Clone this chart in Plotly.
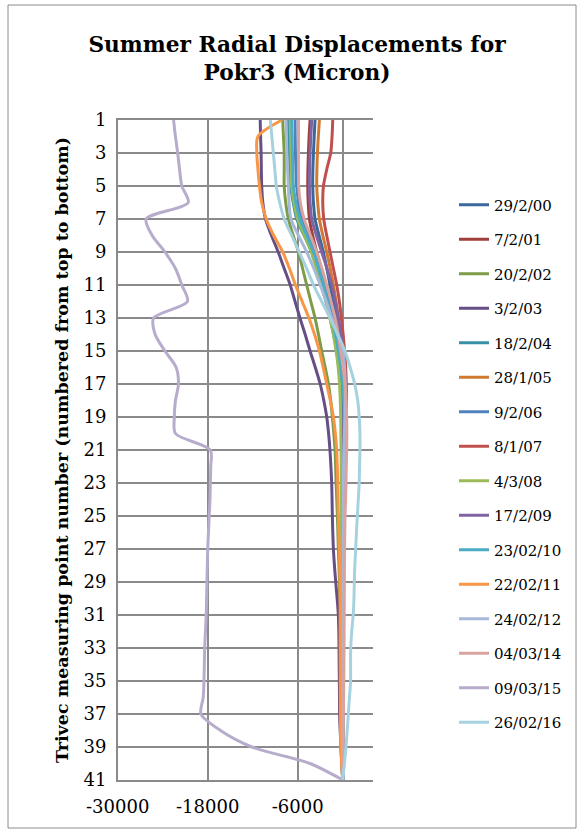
import plotly.graph_objects as go

# Trivec measuring points, numbered from the top of the borehole
points = list(range(1, 42))
y_tick_vals = list(range(1, 42, 2))
x_tick_vals = [-30000, -18000, -6000]
x_tick_text = ["-30000", "-18000", "-6000"]

dates = ["29/2/00", "7/2/01", "20/2/02", "3/2/03", "18/2/04", "28/1/05", "9/2/06", "8/1/07",
         "4/3/08", "17/2/09", "23/02/10", "22/02/11", "24/02/12", "04/03/14", "09/03/15", "26/02/16"]

# Radial displacement per measuring point (micron)
s_290200 = [-3690, -3800, -3900, -3980, -4000, -3900, -3690, -3150, -2580, -2120, -1690, -1230, -800, -540, -350,
            -240, -160, -110, -80, -70, -70, -80, -90, -100, -110, -120, -120, -130, -130, -130, -130, -120, -120,
            -110, -110, -100, -90, -70, -50, -30, 0]
s_070201 = [-4350, -4480, -4570, -4640, -4660, -4600, -4440, -4000, -3460, -2900, -2350, -1780, -1240, -860, -580,
            -340, -150, -20, 60, 80, 60, 40, 20, 0, -20, -30, -40, -40, -50, -50, -50, -50, -40, -40, -40, -30,
            -30, -20, -20, -10, 0]
s_200202 = [-8000, -7900, -7800, -7800, -7800, -7600, -7240, -6600, -5900, -5350, -4800, -4250, -3690, -3230, -2800,
            -2330, -1900, -1600, -1380, -1180, -1020, -940, -880, -790, -710, -640, -580, -500, -440, -400, -380,
            -360, -350, -340, -330, -320, -300, -260, -200, -110, 0]
s_030203 = [-11000, -10950, -10880, -10850, -10800, -10650, -10300, -9500, -8600, -7800, -7000, -6350, -5700, -5000,
            -4350, -3650, -3000, -2520, -2130, -1880, -1700, -1570, -1470, -1420, -1380, -1320, -1240, -1100, -930,
            -740, -580, -520, -490, -470, -450, -430, -420, -340, -230, -120, 0]
s_180204 = [-7240, -7180, -7100, -7020, -6930, -6600, -6130, -5150, -4130, -3420, -2800, -2220, -1690, -1200, -800,
            -520, -330, -220, -160, -130, -120, -120, -120, -120, -120, -120, -120, -110, -110, -110, -100, -100,
            -100, -90, -90, -80, -70, -60, -40, -20, 0]
s_280105 = [-3110, -3250, -3370, -3440, -3460, -3330, -3110, -2650, -2130, -1660, -1240, -880, -580, -330, -150,
            -70, -40, -40, -50, -60, -80, -90, -100, -110, -120, -130, -140, -150, -150, -150, -150, -150, -140,
            -140, -130, -120, -110, -90, -70, -40, 0]
s_090206 = [-6350, -6330, -6300, -6230, -6130, -5880, -5460, -4600, -3690, -2980, -2350, -1770, -1240, -860, -580,
            -330, -140, 0, 90, 150, 180, 180, 170, 150, 130, 110, 100, 80, 70, 60, 50, 40, 40, 30, 30, 20, 20, 10,
            10, 0, 0]
s_080107 = [-1330, -1420, -1600, -2130, -2570, -2660, -2530, -2130, -1690, -1240, -800, -440, -180, 60, 250, 400,
            480, 500, 460, 380, 290, 220, 170, 130, 100, 80, 70, 60, 50, 50, 40, 40, 40, 30, 30, 30, 20, 20, 10,
            10, 0]
s_040308 = [-7000, -6950, -6900, -6850, -6800, -6500, -6000, -5100, -4200, -3500, -2850, -2250, -1720, -1250, -880,
            -600, -420, -320, -270, -240, -220, -210, -200, -190, -180, -170, -160, -160, -150, -150, -140, -140,
            -130, -130, -120, -110, -100, -80, -60, -30, 0]
s_170209 = [-4130, -4250, -4350, -4420, -4440, -4350, -4130, -3500, -2800, -2100, -1470, -980, -580, -230, 40, 160,
            200, 190, 170, 150, 130, 110, 100, 90, 80, 70, 60, 60, 50, 50, 40, 40, 40, 30, 30, 30, 20, 20, 10, 10, 0]
s_230210 = [-6800, -6750, -6700, -6650, -6570, -6250, -5700, -4800, -3900, -3200, -2580, -2000, -1470, -980, -580,
            -250, 0, 180, 260, 250, 200, 160, 130, 110, 90, 70, 60, 50, 40, 40, 30, 30, 30, 20, 20, 20, 20, 10, 10,
            0, 0]
s_220211 = [-8100, -11300, -11450, -11300, -11100, -10800, -10200, -9200, -8000, -7100, -6300, -5400, -4500, -3750,
            -3100, -2600, -2130, -1650, -1240, -980, -800, -720, -660, -620, -580, -520, -450, -400, -360, -350,
            -340, -340, -340, -330, -330, -320, -320, -300, -260, -150, 0]
s_240212 = [-7550, -7500, -7450, -7350, -7240, -7150, -6900, -5900, -4800, -3850, -3000, -2200, -1470, -700, 0, 250,
            330, 330, 300, 230, 160, 120, 90, 70, 50, 40, 30, 30, 20, 20, 20, 20, 20, 10, 10, 10, 10, 10, 0, 0, 0]
s_040314 = [-5900, -5900, -5900, -5900, -5880, -5650, -5150, -4300, -3460, -2770, -2130, -1550, -1020, -600, -270,
            60, 310, 450, 530, 550, 530, 480, 440, 380, 310, 280, 250, 230, 220, 210, 200, 190, 180, 160, 140, 120,
            90, 70, 50, 20, 0]
s_090315 = [-22550, -22300, -22000, -21750, -21450, -20600, -26200, -25400, -23700, -22300, -21450, -20700, -25200,
            -25000, -23700, -22200, -21900, -22300, -22450, -22300, -17650, -17600, -17650, -17700, -17800, -17900,
            -18000, -18050, -18100, -18150, -18200, -18300, -18400, -18450, -18500, -18600, -18900, -16300, -12100,
            -4350, 0]
s_260216 = [-9650, -9450, -9250, -9050, -8850, -8400, -7800, -6800, -5800, -4800, -3900, -2800, -1690, -650, 300,
            1000, 1600, 2000, 2200, 2300, 2300, 2250, 2200, 2080, 1950, 1830, 1730, 1620, 1550, 1500, 1400, 1200,
            1070, 1050, 1050, 900, 750, 600, 440, 230, 0]

series = [s_290200, s_070201, s_200202, s_030203, s_180204, s_280105, s_090206, s_080107,
          s_040308, s_170209, s_230210, s_220211, s_240212, s_040314, s_090315, s_260216]

colors = ["#3A679C", "#A1403D", "#7E9B48", "#664E86", "#3890A8", "#D07A32", "#4F81BD", "#C0504D",
          "#9BBB59", "#8064A2", "#4BACC6", "#F79646", "#A7B9D9", "#D9A3A0", "#B7ACCB", "#A6D2E0"]

W, H = 581, 831
GRID = "#8A8A8A"
SERIF = "DejaVu Serif"

fig = go.Figure()
for name, vals, col in zip(dates, series, colors):
    fig.add_trace(go.Scatter(
        x=vals, y=points, mode="lines", name=name, legendgroup=name,
        line=dict(color=col, width=3, shape="spline", smoothing=0.8),
    ))

fig.update_layout(
    width=W, height=H,
    margin=dict(l=0, r=0, t=0, b=0, autoexpand=False),
    paper_bgcolor="white", plot_bgcolor="white",
    font=dict(family=SERIF, color="black"),
    title=dict(
        text="<b>Summer Radial Displacements for<br>Pokr3 (Micron)</b>",
        x=297 / W, xanchor="center", xref="paper",
        y=1 - 52 / H, yanchor="middle", yref="container",
        font=dict(family=SERIF, size=21.7, color="black"),
    ),
    xaxis=dict(
        domain=[117.7 / W, 372.7 / W], range=[-30000, 4000], automargin=False,
        tickmode="array", tickvals=x_tick_vals, ticktext=x_tick_text,
        showgrid=True, gridcolor=GRID, gridwidth=1.5,
        zeroline=True, zerolinecolor=GRID, zerolinewidth=1.5,
        showline=True, linecolor=GRID, linewidth=1.5, mirror=True,
        ticks="", tickfont=dict(family=SERIF, size=18, color="black"),
        ticklabelstandoff=10,
    ),
    xaxis2=dict(
        overlaying="x", matches="x", anchor="y", side="top", automargin=False,
        tickmode="array", tickvals=x_tick_vals,
        ticks="outside", ticklen=6, tickwidth=1.5, tickcolor=GRID,
        showticklabels=False, showgrid=False, zeroline=False, showline=False,
    ),
    yaxis=dict(
        domain=[1 - 780 / H, 1 - 120 / H], range=[41, 1], automargin=False,
        tickmode="array", tickvals=y_tick_vals,
        showgrid=True, gridcolor=GRID, gridwidth=1.5,
        zeroline=False, showline=True, linecolor=GRID, linewidth=1.5, mirror=False,
        ticks="", tickfont=dict(family=SERIF, size=18, color="black"),
        ticklabelstandoff=6,
        title=dict(text="<b>Trivec measuring point number (numbered from top to bottom)</b>",
                   font=dict(family=SERIF, size=17.5, color="black"), standoff=10),
    ),
    legend=dict(
        x=454 / W, xanchor="left", y=1 - 188.5 / H, yanchor="top",
        font=dict(family=SERIF, size=15, color="black"),
        tracegroupgap=12, bgcolor="rgba(0,0,0,0)", borderwidth=0,
    ),
    shapes=[dict(type="rect", xref="paper", yref="paper",
                 x0=8 / W, x1=576 / W, y0=1 - 828 / H, y1=1 - 5 / H,
                 line=dict(color="#8C8C8C", width=1), fillcolor="rgba(0,0,0,0)", layer="below")],
)

fig.write_html("out.html")
